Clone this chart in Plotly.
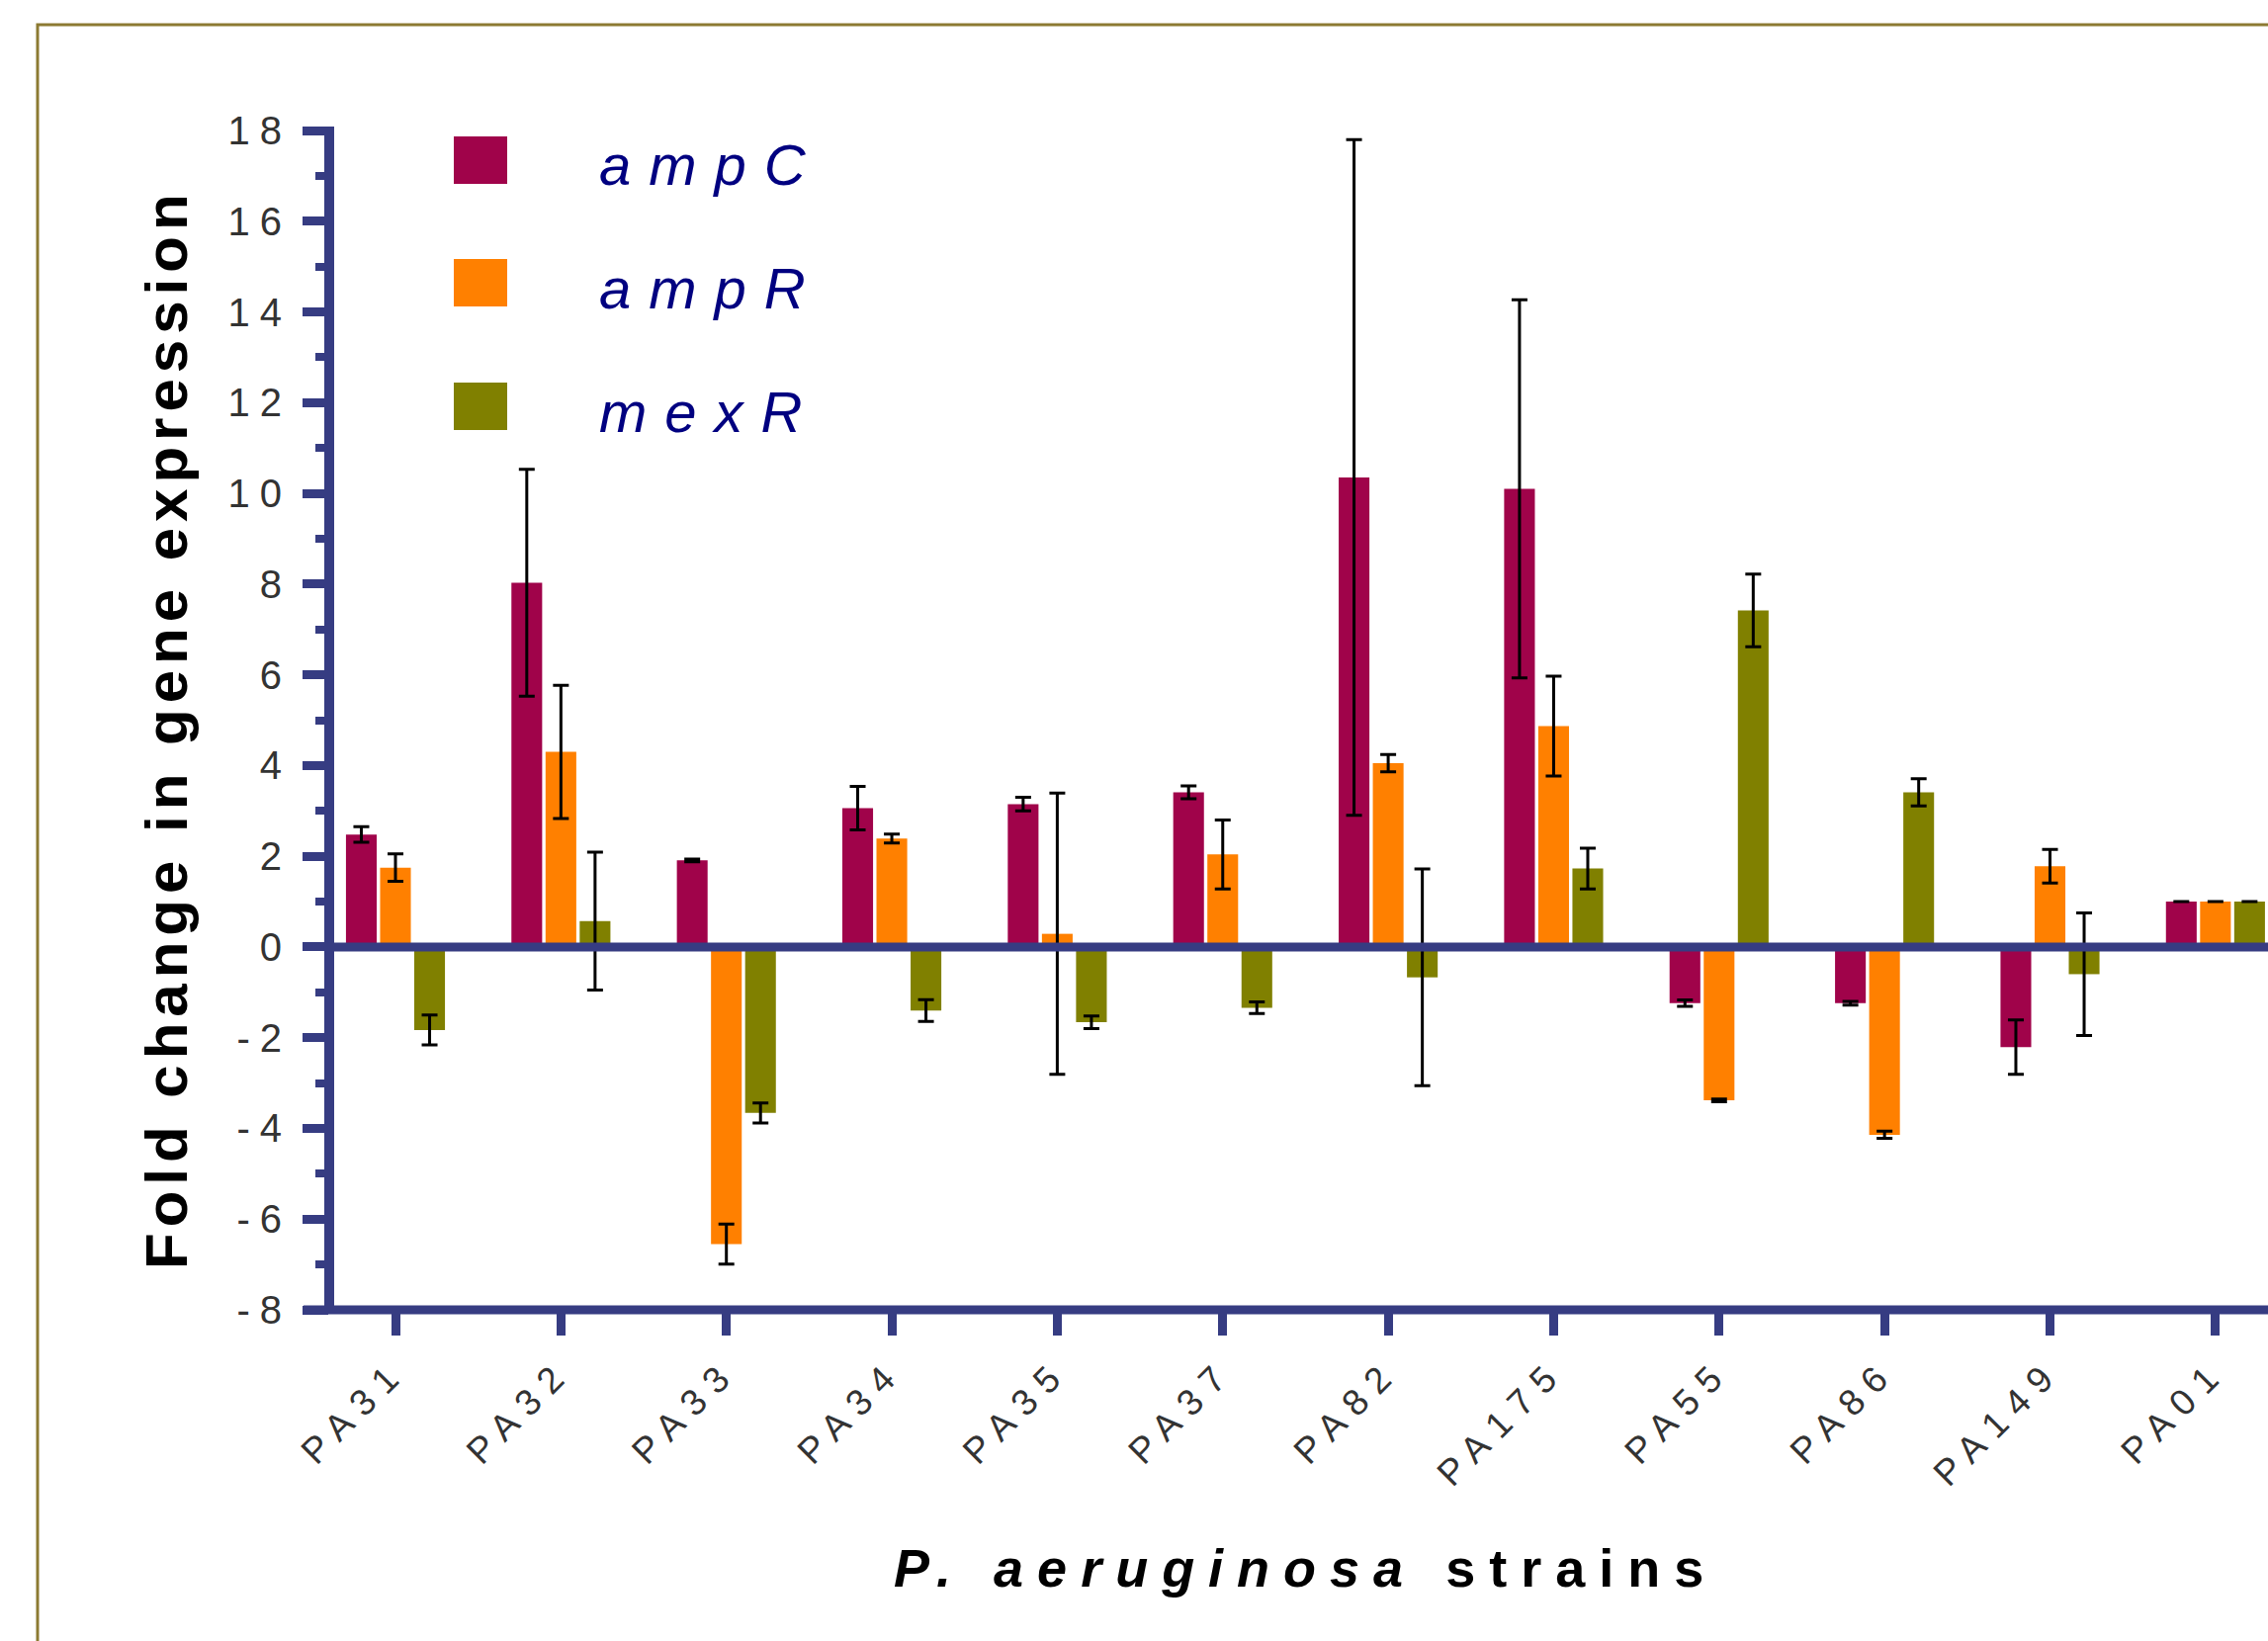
import plotly.graph_objects as go

# ---------------- data ----------------
strains = ["PA31", "PA32", "PA33", "PA34", "PA35", "PA37", "PA82", "PA175",
           "PA55", "PA86", "PA149", "PA01"]
ampC = [2.48, 8.03, 1.91, 3.06, 3.15, 3.41, 10.35, 10.10, -1.24, -1.24, -2.21, 1.0]
ampC_err = [0.17, 2.50, 0.03, 0.48, 0.15, 0.14, 7.45, 4.17, 0.07, 0.04, 0.60, 0.0]
ampR = [1.75, 4.30, -6.55, 2.39, 0.29, 2.04, 4.05, 4.87, -3.38, -4.14, 1.78, 1.0]
ampR_err = [0.30, 1.47, 0.44, 0.10, 3.10, 0.76, 0.19, 1.10, 0.03, 0.08, 0.37, 0.0]
mexR = [-1.83, 0.57, -3.66, -1.40, -1.66, -1.34, -0.67, 1.73, 7.42, 3.41, -0.60, 1.0]
mexR_err = [0.33, 1.52, 0.22, 0.24, 0.14, 0.13, 2.39, 0.45, 0.80, 0.30, 1.35, 0.0]

series_names = ["ampC", "ampR", "mexR"]
ytick_vals = [-8, -6, -4, -2, 0, 2, 4, 6, 8, 10, 12, 14, 16, 18]
ytick_text = ["-8", "-6", "-4", "-2", "0", "2", "4", "6", "8", "10", "12", "14", "16", "18"]
yminor_vals = [-7, -5, -3, -1, 1, 3, 5, 7, 9, 11, 13, 15, 17]
y_title = "Fold change in gene expression"
x_title = "<b><i>P. aeruginosa</i> strains</b>"

# ---------------- style ----------------
COLORS = ["#A0034A", "#FF8000", "#808000"]
AX = "#363C82"
W, H = 2294, 1660
L, R, T, B = 333, 2294, 132, 1325          # plot area in pixels
PW, PH = R - L, B - T
X0_PX, DX_PX = 400, 167.35                  # first category centre, spacing


def px(x):
    return (x - L) / PW


def py(y):
    return (B - y) / PH


fig = go.Figure()
for name, vals, errs, col in zip(series_names, [ampC, ampR, mexR],
                                 [ampC_err, ampR_err, mexR_err], COLORS):
    fig.add_trace(go.Bar(
        x=strains, y=vals, name=name,
        marker=dict(color=col, line=dict(width=0)),
        error_y=dict(type="data", array=errs, visible=True,
                     color="black", thickness=3, width=8),
        showlegend=False,
    ))

shapes = []
# outer border
shapes.append(dict(type="rect", xref="paper", yref="paper",
                   x0=px(38), x1=px(2310), y0=py(1700), y1=py(25),
                   line=dict(color="#8C7A32", width=3), layer="below"))
# y axis line
shapes.append(dict(type="line", xref="paper", yref="paper",
                   x0=0, x1=0, y0=py(1329), y1=py(128),
                   line=dict(color=AX, width=10), layer="above"))
# x axis line at bottom
shapes.append(dict(type="line", xref="paper", yref="paper",
                   x0=px(307), x1=1.01, y0=0, y1=0,
                   line=dict(color=AX, width=9), layer="above"))
# zero line
shapes.append(dict(type="line", xref="paper", yref="y",
                   x0=0, x1=1.01, y0=0, y1=0,
                   line=dict(color=AX, width=9), layer="above"))

# legend squares
leg_tops = [138, 262, 387]
for top, col in zip(leg_tops, COLORS):
    shapes.append(dict(type="rect", xref="paper", yref="paper",
                       x0=px(459), x1=px(513), y0=py(top + 48), y1=py(top),
                       line=dict(width=0), fillcolor=col))

annotations = []
for top, name in zip(leg_tops, series_names):
    annotations.append(dict(xref="paper", yref="paper", x=px(640), y=py(top + 29),
                            xanchor="left", yanchor="middle", showarrow=False,
                            text="<i>" + name + "</i>",
                            font=dict(family="Liberation Sans, Arial", size=58,
                                      color="#000080")))
annotations.append(dict(xref="paper", yref="paper", x=px(168), y=py(737),
                        xanchor="center", yanchor="middle", showarrow=False,
                        textangle=-90, text="<b>" + y_title + "</b>",
                        font=dict(family="Liberation Sans, Arial", size=60,
                                  color="black")))
annotations.append(dict(xref="paper", yref="paper", x=px(1320), y=py(1586),
                        xanchor="center", yanchor="middle", showarrow=False,
                        text=x_title,
                        font=dict(family="Liberation Sans, Arial", size=54,
                                  color="black")))

x_lo = (L - X0_PX) / DX_PX
x_hi = (R - X0_PX) / DX_PX

fig.update_layout(
    width=W, height=H,
    margin=dict(l=L, r=W - R, t=T, b=H - B, pad=0, autoexpand=False),
    paper_bgcolor="white", plot_bgcolor="white",
    barmode="group", bargap=0.381, bargroupgap=0.10,
    shapes=shapes, annotations=annotations,
    font=dict(family="Liberation Sans, Arial"),
    xaxis=dict(type="category", range=[x_lo, x_hi], showline=False,
               showgrid=False, zeroline=False, automargin=False,
               ticks="outside", ticklen=25, tickwidth=9, tickcolor=AX,
               tickangle=-45,
               tickfont=dict(family="Liberation Sans, Arial", size=37,
                             color="#333333")),
    yaxis=dict(range=[-8, 18], showline=False, showgrid=False, zeroline=False,
               automargin=False,
               tickmode="array", tickvals=ytick_vals, ticktext=ytick_text,
               ticks="outside", ticklen=26, tickwidth=9, tickcolor=AX,
               ticklabelstandoff=3,
               minor=dict(tickmode="array", tickvals=yminor_vals,
                          ticks="outside", ticklen=13, tickwidth=8,
                          tickcolor=AX, showgrid=False),
               tickfont=dict(family="Liberation Sans, Arial", size=40,
                             color="#333333")),
)

post = """
document.body.style.margin = '0';
document.body.style.padding = '0';
var gd = document.getElementById('{plot_id}');
function applyLS(){
  gd.querySelectorAll('.ytick text').forEach(function(t){t.style.letterSpacing='10px';});
  gd.querySelectorAll('.xtick text').forEach(function(t){t.style.letterSpacing='11px';});
  gd.querySelectorAll('.annotation-text').forEach(function(t){
    var s = t.textContent;
    if (s.indexOf('Fold') === 0) { t.style.letterSpacing = '6px'; }
    else if (s.indexOf('aeruginosa') >= 0) { t.style.letterSpacing = '14px'; }
    else { t.style.letterSpacing = '18px'; }
  });
}
applyLS();
gd.on('plotly_afterplot', applyLS);
"""

fig.write_html("out.html", config={"displayModeBar": False}, post_script=post)
